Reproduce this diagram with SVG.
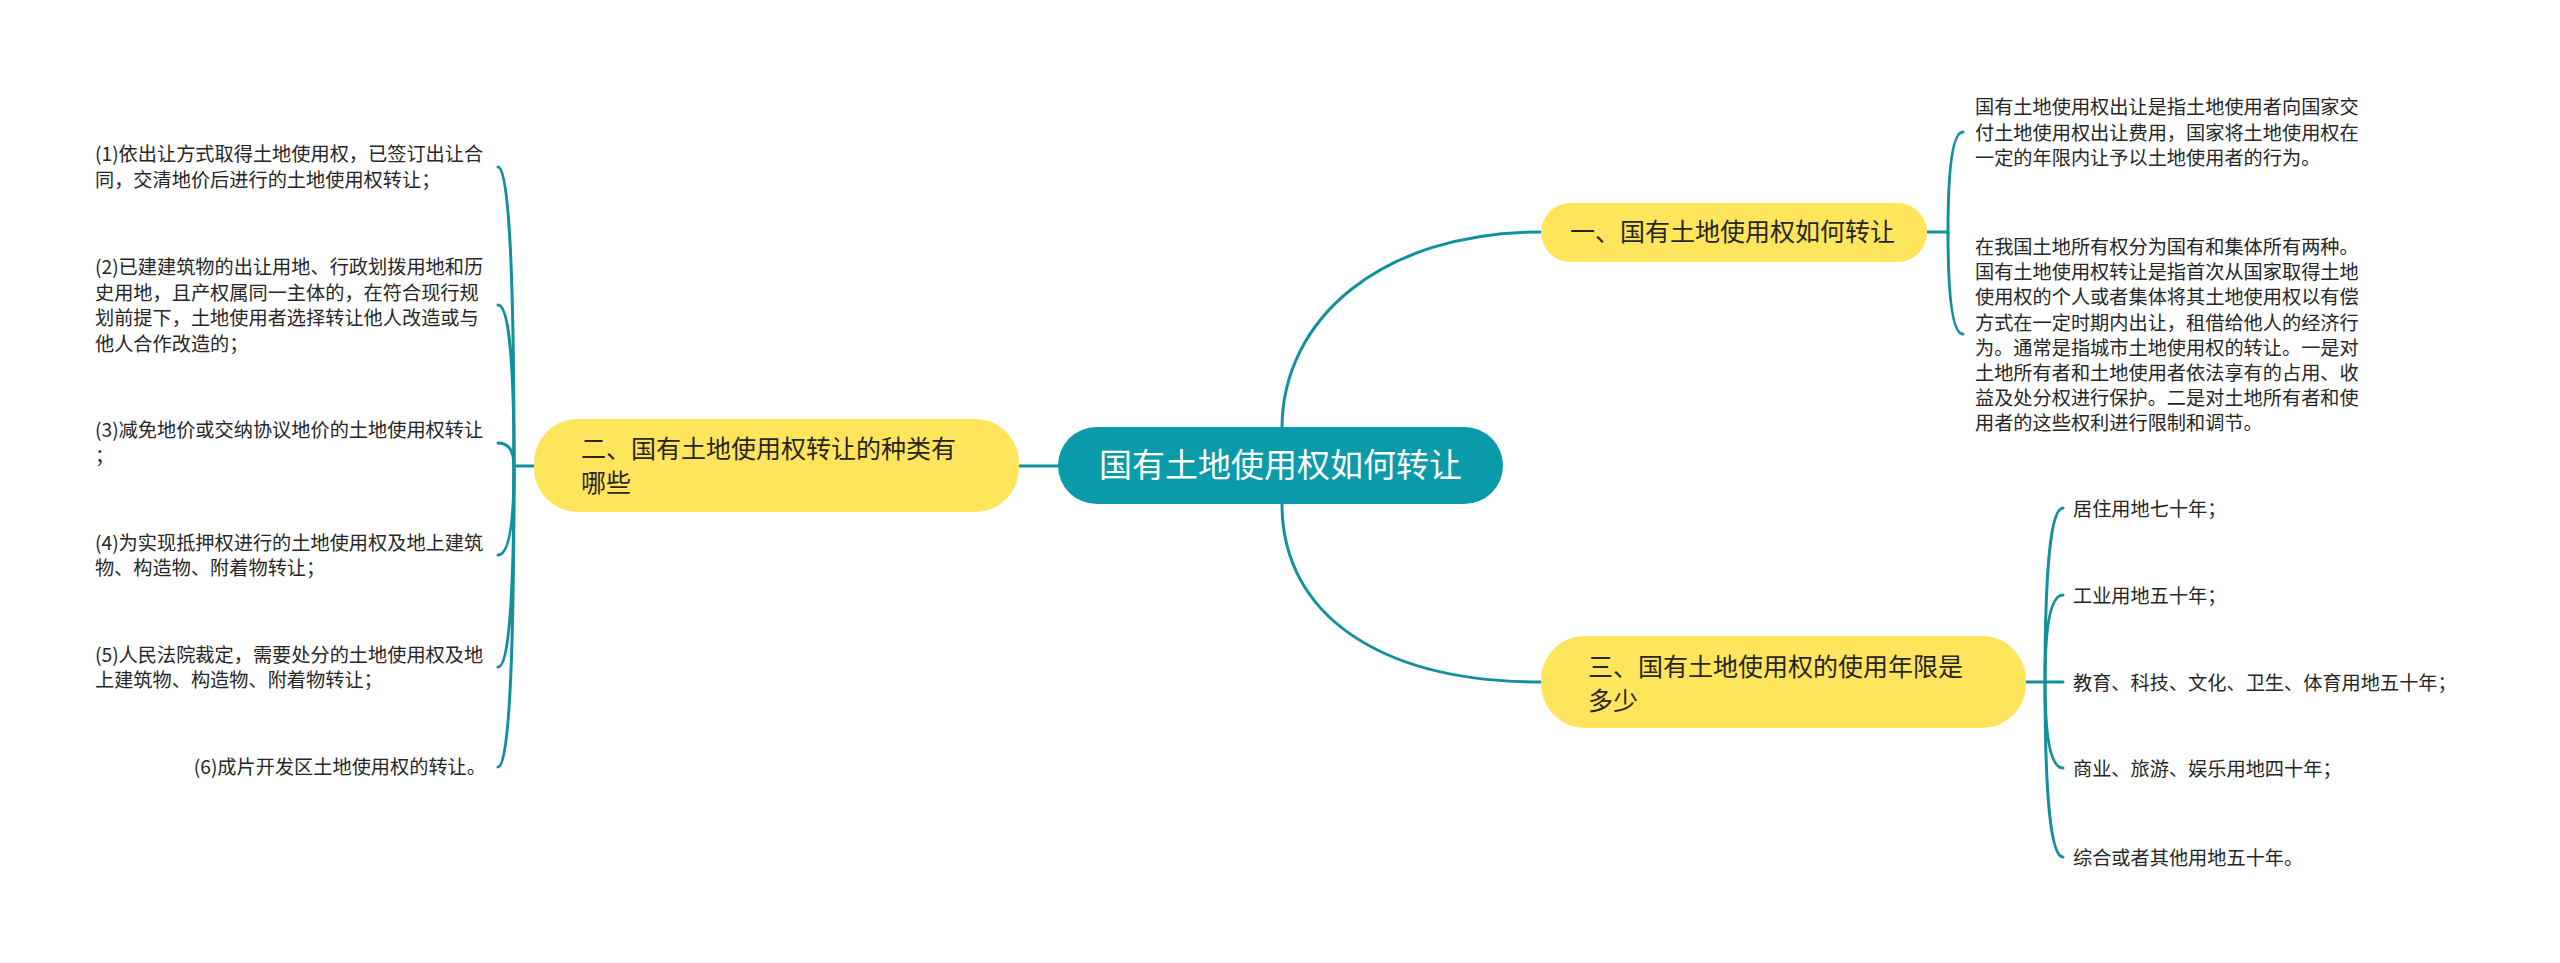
<svg xmlns="http://www.w3.org/2000/svg" width="2560" height="963" viewBox="0 0 2560 963">
<style>
.bg{fill:#ffffff}
.root{fill:#0b9aaa}
.sub{fill:#ffe55c}
.link{fill:none;stroke:#12909e;stroke-width:3;stroke-linecap:round}
.t{font-family:"Noto Sans CJK SC","Noto Sans",sans-serif;fill:#262626}
.rt{font-family:"Noto Sans CJK SC","Noto Sans",sans-serif;fill:#ffffff;font-size:33px}
.st{font-size:25px}
.lt{font-size:19.2px}
</style>
<rect class="bg" x="0" y="0" width="2560" height="963"/>
<g id="connectors">
  <path class="link" d="M1282 428 C1282 320 1380 232 1541 232"/>
  <path class="link" d="M1282 504 C1282 615 1380 682 1541 682"/>
  <path class="link" d="M1019 466 L1058 466"/>
  <path class="link" d="M534 466 L514 466"/>
  <path class="link" d="M514 466 Q514 167 498 167"/>
  <path class="link" d="M514 466 Q514 305 498 305"/>
  <path class="link" d="M514 466 Q514 443 498 443"/>
  <path class="link" d="M514 466 Q514 555 498 555"/>
  <path class="link" d="M514 466 Q514 667 498 667"/>
  <path class="link" d="M514 466 Q514 767 498 767"/>
  <path class="link" d="M1927 232 L1948 232"/>
  <path class="link" d="M1948 232 Q1948 132 1963 132"/>
  <path class="link" d="M1948 232 Q1948 334 1963 334"/>
  <path class="link" d="M2026 682 L2063 682"/>
  <path class="link" d="M2045 682 Q2045 508 2063 508"/>
  <path class="link" d="M2045 682 Q2045 595 2063 595"/>
  <path class="link" d="M2045 682 Q2045 768 2063 768"/>
  <path class="link" d="M2045 682 Q2045 857 2063 857"/>
</g>
<g id="root">
  <rect class="root" x="1058" y="427" width="445" height="77" rx="38.5"/>
  <text class="rt" x="1280.5" y="477" text-anchor="middle">国有土地使用权如何转让</text>
</g>
<g id="n1">
  <rect class="sub" x="1541" y="203" width="386" height="59" rx="29.5"/>
  <text class="t st" x="1570" y="241">一、国有土地使用权如何转让</text>
</g>
<g id="n2">
  <rect class="sub" x="534" y="419" width="485" height="93" rx="44"/>
  <text class="t st" x="581" y="458">二、国有土地使用权转让的种类有</text>
  <text class="t st" x="581" y="492">哪些</text>
</g>
<g id="n3">
  <rect class="sub" x="1541" y="636" width="485" height="92" rx="44"/>
  <text class="t st" x="1588" y="676">三、国有土地使用权的使用年限是</text>
  <text class="t st" x="1588" y="710">多少</text>
</g>
<g id="l1">
  <text class="t lt" x="95" y="161">(1)依出让方式取得土地使用权，已签订出让合</text>
  <text class="t lt" x="95" y="186.5">同，交清地价后进行的土地使用权转让；</text>
</g>
<g id="l2">
  <text class="t lt" x="95" y="274">(2)已建建筑物的出让用地、行政划拨用地和历</text>
  <text class="t lt" x="95" y="299.5">史用地，且产权属同一主体的，在符合现行规</text>
  <text class="t lt" x="95" y="325">划前提下，土地使用者选择转让他人改造或与</text>
  <text class="t lt" x="95" y="350.5">他人合作改造的；</text>
</g>
<g id="l3">
  <text class="t lt" x="95" y="437">(3)减免地价或交纳协议地价的土地使用权转让</text>
  <text class="t lt" x="95" y="462.5">；</text>
</g>
<g id="l4">
  <text class="t lt" x="95" y="549.5">(4)为实现抵押权进行的土地使用权及地上建筑</text>
  <text class="t lt" x="95" y="575">物、构造物、附着物转让；</text>
</g>
<g id="l5">
  <text class="t lt" x="95" y="661.5">(5)人民法院裁定，需要处分的土地使用权及地</text>
  <text class="t lt" x="95" y="687">上建筑物、构造物、附着物转让；</text>
</g>
<g id="l6">
  <text class="t lt" x="486" y="774" text-anchor="end">(6)成片开发区土地使用权的转让。</text>
</g>
<g id="r1">
  <text class="t lt" x="1975" y="114">国有土地使用权出让是指土地使用者向国家交</text>
  <text class="t lt" x="1975" y="139.5">付土地使用权出让费用，国家将土地使用权在</text>
  <text class="t lt" x="1975" y="165">一定的年限内让予以土地使用者的行为。</text>
</g>
<g id="r2">
  <text class="t lt" x="1975" y="254">在我国土地所有权分为国有和集体所有两种。</text>
  <text class="t lt" x="1975" y="279.2">国有土地使用权转让是指首次从国家取得土地</text>
  <text class="t lt" x="1975" y="304.4">使用权的个人或者集体将其土地使用权以有偿</text>
  <text class="t lt" x="1975" y="329.6">方式在一定时期内出让，租借给他人的经济行</text>
  <text class="t lt" x="1975" y="354.8">为。通常是指城市土地使用权的转让。一是对</text>
  <text class="t lt" x="1975" y="380">土地所有者和土地使用者依法享有的占用、收</text>
  <text class="t lt" x="1975" y="405.2">益及处分权进行保护。二是对土地所有者和使</text>
  <text class="t lt" x="1975" y="430.4">用者的这些权利进行限制和调节。</text>
</g>
<g id="y1"><text class="t lt" x="2073" y="516">居住用地七十年；</text></g>
<g id="y2"><text class="t lt" x="2073" y="603">工业用地五十年；</text></g>
<g id="y3"><text class="t lt" x="2073" y="689.5">教育、科技、文化、卫生、体育用地五十年；</text></g>
<g id="y4"><text class="t lt" x="2073" y="776">商业、旅游、娱乐用地四十年；</text></g>
<g id="y5"><text class="t lt" x="2073" y="864.5">综合或者其他用地五十年。</text></g>
</svg>
